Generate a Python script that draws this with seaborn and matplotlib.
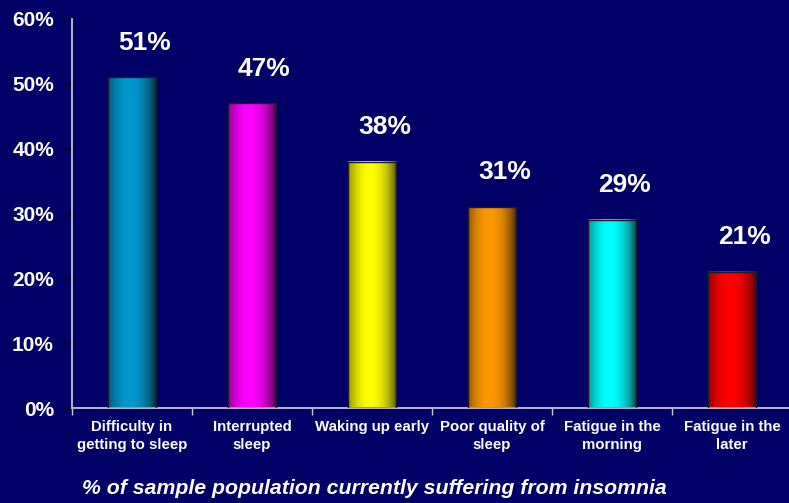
import numpy as np
import matplotlib
matplotlib.use("Agg")
import matplotlib.pyplot as plt
from matplotlib.ticker import FixedLocator, FuncFormatter
from matplotlib.colors import to_rgb
import seaborn as sns

categories = [
    "Difficulty in\ngetting to sleep",
    "Interrupted\nsleep",
    "Waking up early",
    "Poor quality of\nsleep",
    "Fatigue in the\nmorning",
    "Fatigue in the\nlater",
]
values = [51, 47, 38, 31, 29, 21]
bar_colors = ["#0099CC", "#FF00FF", "#FFFF00", "#FF9900", "#00FFFF", "#FF0000"]
y_ticks = [0, 10, 20, 30, 40, 50, 60]
title = "% of sample population currently suffering from insomnia"

BG = "#000066"
sns.set_theme(style="white")
plt.rcParams["font.family"] = ["Liberation Sans", "DejaVu Sans"]
plt.rcParams["font.weight"] = "bold"

fig = plt.figure(figsize=(7.89, 5.03), dpi=100, facecolor=BG)
ax = fig.add_axes([72 / 789, 1 - 408 / 503, (792 - 72) / 789, (408 - 19) / 503])
ax.set_facecolor(BG)

sns.barplot(x=categories, y=values, hue=categories, palette=bar_colors,
            width=0.4, saturation=1, legend=False, ax=ax)

# cylinder-style shading for each bar
t = np.linspace(0, 1, 200)
profile = 0.33 + 0.67 * np.clip(np.cos((t - 0.45) * np.pi * 0.95), 0, 1) ** 0.7
for patch in ax.patches:
    x, y = patch.get_x(), patch.get_y()
    w, h = patch.get_width(), patch.get_height()
    base = np.array(to_rgb(patch.get_facecolor()))
    grad = profile[None, :, None] * base[None, None, :]
    ax.imshow(grad, extent=[x, x + w, y, y + h], aspect="auto",
              interpolation="bicubic", zorder=2)
    patch.set_facecolor("none")
    patch.set_edgecolor("#1a1a2a")
    patch.set_linewidth(1.0)
    patch.set_zorder(3)
    ax.annotate(f"{int(round(h))}%", (x + w / 2, h), xytext=(9, 20),
                textcoords="offset points", ha="center", va="baseline",
                color="white", fontsize=19, fontweight="bold")

ax.set_xlim(-0.5, len(categories) - 0.5)
ax.set_ylim(0, 60)

ax.yaxis.set_major_locator(FixedLocator(y_ticks))
ax.yaxis.set_major_formatter(FuncFormatter(lambda v, p: f"{int(v)}%"))
ax.tick_params(axis="y", which="major", direction="out", length=5, width=1.2,
               color="black", pad=8, labelsize=15, labelcolor="white", left=True)

ax.xaxis.set_minor_locator(FixedLocator(np.arange(-0.5, len(categories), 1.0)))
ax.tick_params(axis="x", which="major", length=0, pad=9, labelsize=10.8,
               labelcolor="white")
ax.tick_params(axis="x", which="minor", direction="out", length=5, width=1.0,
               color="#c8c8d8", bottom=True)
for lbl in ax.get_xticklabels():
    lbl.set_fontweight("bold")
    lbl.set_linespacing(1.3)
for lbl in ax.get_yticklabels():
    lbl.set_fontweight("bold")

ax.set_xlabel("")
ax.set_ylabel("")
for side in ["top", "right"]:
    ax.spines[side].set_visible(False)
for side in ["left", "bottom"]:
    ax.spines[side].set_visible(True)
    ax.spines[side].set_color("#b8b8c8")
    ax.spines[side].set_linewidth(1.4)
ax.grid(False)

fig.text(82 / 789, 1 - 489 / 503, title, ha="left", va="center",
         color="white", fontsize=15.3, fontweight="bold", fontstyle="italic")

fig.savefig("out.png", dpi=100, facecolor=BG)
